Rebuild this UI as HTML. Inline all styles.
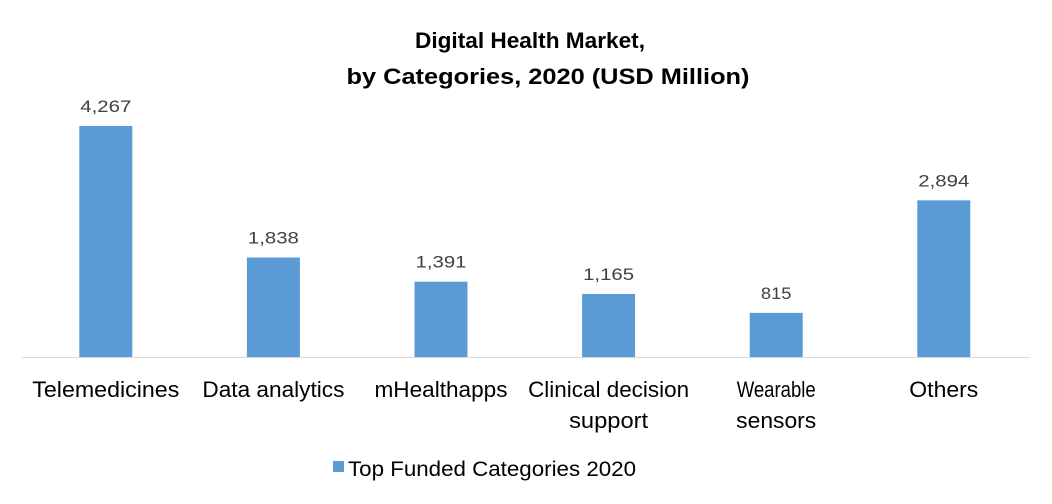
<!DOCTYPE html>
<html><head><meta charset="utf-8"><style>
body{margin:0;background:#fff;}
svg{display:block;font-family:"Liberation Sans",sans-serif;}
</style></head><body>
<svg id="chart" width="1052" height="504">
<text x="530" y="48" text-anchor="middle" font-size="22" font-weight="bold" fill="#000" textLength="230" lengthAdjust="spacingAndGlyphs">Digital Health Market,</text>
<text x="548" y="84" text-anchor="middle" font-size="22" font-weight="bold" fill="#000" textLength="403" lengthAdjust="spacingAndGlyphs">by Categories, 2020 (USD Million)</text>
<line x1="22" y1="357.5" x2="1030" y2="357.5" stroke="#d9d9d9" stroke-width="1"/>
<g id="bars"></g>
<rect x="333" y="461" width="11" height="11" fill="#5b9bd5"/>
<text x="348" y="476" font-size="21" fill="#000" textLength="288" lengthAdjust="spacingAndGlyphs">Top Funded Categories 2020</text>
</svg>
<script>
const categories=[["Telemedicines"],["Data analytics"],["mHealthapps"],["Clinical decision","support"],["Wearable","sensors"],["Others"]];
const values=[4267,1838,1391,1165,815,2894];
const valueLabels=["4,267","1,838","1,391","1,165","815","2,894"];
const labelWidths={"Telemedicines":147,"Data analytics":142,"mHealthapps":133,"Clinical decision":161,"support":79,"Wearable":79,"sensors":80,"Others":69};
const ns="http://www.w3.org/2000/svg";
const baseY=357, scale=231/4267, x0=22, step=167.6, barW=53;
function xCenter(i){return x0+step*(i+0.5);}
function yVal(v){return baseY-v*scale;}
const g=document.getElementById('bars');
values.forEach((v,i)=>{
  const r=document.createElementNS(ns,'rect');
  r.setAttribute('x',xCenter(i)-barW/2);r.setAttribute('y',yVal(v));
  r.setAttribute('width',barW);r.setAttribute('height',baseY-yVal(v));
  r.setAttribute('fill','#5b9bd5');
  
  
  g.appendChild(r);
  const t=document.createElementNS(ns,'text');
  t.setAttribute('x',xCenter(i));t.setAttribute('y',yVal(v)-14);
  t.setAttribute('text-anchor','middle');t.setAttribute('font-size','17');t.setAttribute('fill','#404040');
  t.setAttribute('textLength',valueLabels[i].length*10.2);t.setAttribute('lengthAdjust','spacingAndGlyphs');
  t.textContent=valueLabels[i];
  
  
  g.appendChild(t);
  categories[i].forEach((line,j)=>{
    const c=document.createElementNS(ns,'text');
    c.setAttribute('x',xCenter(i));c.setAttribute('y',397+j*31);
    c.setAttribute('text-anchor','middle');c.setAttribute('font-size','22');c.setAttribute('fill','#000');
    const w=labelWidths[line]||line.length*11;
    c.setAttribute('textLength',w);c.setAttribute('lengthAdjust','spacingAndGlyphs');
    c.textContent=line;
    
    
    g.appendChild(c);
  });
});
</script>
</body></html>
